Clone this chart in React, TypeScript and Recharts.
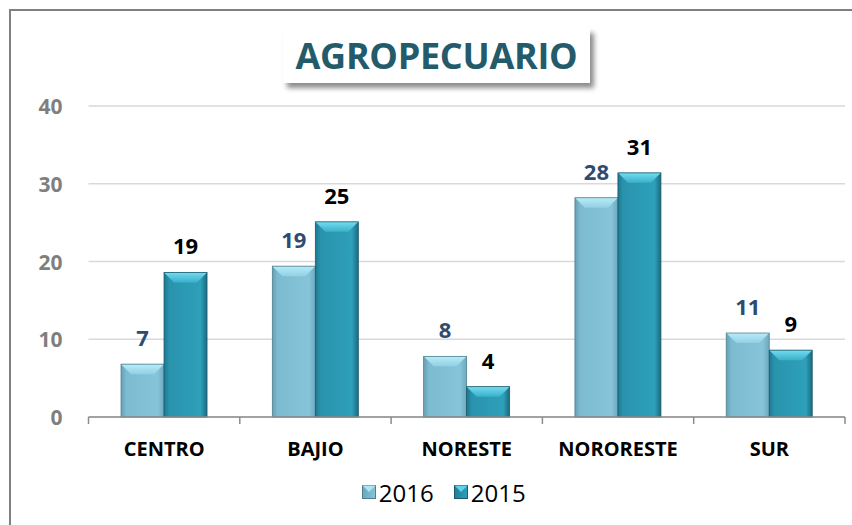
import React from 'react';
import { BarChart, Bar, XAxis, YAxis, CartesianGrid, LabelList, Legend } from 'recharts';

const categories = ['CENTRO', 'BAJIO', 'NORESTE', 'NORORESTE', 'SUR'];
const values2016 = [6.8, 19.4, 7.8, 28.2, 10.8];
const values2015 = [18.6, 25.1, 3.9, 31.4, 8.6];
const labels2016 = [7, 19, 8, 28, 11];
const labels2015 = [19, 25, 4, 31, 9];
const yTicks = [0, 10, 20, 30, 40];

const data = categories.map((name, i) => ({
  name,
  v2016: values2016[i],
  v2015: values2015[i],
  l2016: labels2016[i],
  l2015: labels2015[i],
}));

const FONT = '"Open Sans", "DejaVu Sans", sans-serif';

const palette = {
  light: { body: 'url(#g2016)', bevel: 'url(#b2016)', edge: '#4f7f90' },
  dark: { body: 'url(#g2015)', bevel: 'url(#b2015)', edge: '#1b5a6a' },
};

const makeShape = (p: { body: string; bevel: string; edge: string }) => (props: any) => {
  const { x, y, width, height } = props;
  if (!height || height <= 0) return <g />;
  const b = Math.min(10, height / 2, width / 3);
  return (
    <g>
      <rect x={x} y={y} width={width} height={height} fill={p.body} />
      <polygon
        points={`${x},${y} ${x + width},${y} ${x + width - b},${y + b} ${x + b},${y + b}`}
        fill={p.bevel}
      />
      <rect x={x} y={y} width={width} height={height} fill="none" stroke={p.edge} strokeWidth={0.8} />
    </g>
  );
};

const XTick = (props: any) => {
  const { x, y, payload, index } = props;
  const half = payload && payload.offset ? payload.offset : 75.6;
  const top = y - 8;
  return (
    <g>
      <line x1={x - half} y1={top} x2={x - half} y2={top + 7} stroke="#8c8c8c" strokeWidth={1.5} />
      {index === categories.length - 1 && (
        <line x1={x + half} y1={top} x2={x + half} y2={top + 7} stroke="#8c8c8c" strokeWidth={1.5} />
      )}
      <text x={x} y={top + 31} textAnchor="middle" dominantBaseline="central" fontFamily={FONT} fontWeight={700} fontSize={20} fill="#000">
        {payload.value}
      </text>
    </g>
  );
};

const YTick = (props: any) => {
  const { x, y, payload } = props;
  return (
    <text x={x - 18} y={y} textAnchor="end" dominantBaseline="central" fontFamily={FONT} fontWeight={700} fontSize={21} fill="#7f7f7f">
      {payload.value}
    </text>
  );
};

const LegendIcon = ({ light }: { light: boolean }) => (
  <svg width={14} height={14} style={{ marginRight: 3 }}>
    <defs>
      <linearGradient id={light ? 'lg2016' : 'lg2015'} x1="0" y1="0" x2="1" y2="0">
        <stop offset="0" stopColor={light ? '#6aa8be' : '#1f7f98'} />
        <stop offset="1" stopColor={light ? '#86c4d9' : '#2ea0b9'} />
      </linearGradient>
    </defs>
    <rect x={0.5} y={0.5} width={13} height={13} fill={light ? 'url(#lg2016)' : 'url(#lg2015)'} stroke={light ? '#4f7f90' : '#1b5a6a'} />
    <polygon points="0.5,0.5 13.5,0.5 7,7" fill={light ? '#aee4f4' : '#62d2ea'} />
  </svg>
);

const LegendContent = () => (
  <div style={{ height: 30, display: 'flex', justifyContent: 'center', alignItems: 'center', fontFamily: FONT, fontSize: 24, color: '#000', paddingLeft: 14 }}>
    <span style={{ display: 'flex', alignItems: 'center', marginRight: 20 }}>
      <LegendIcon light />2016
    </span>
    <span style={{ display: 'flex', alignItems: 'center' }}>
      <LegendIcon light={false} />2015
    </span>
  </div>
);

export default function App() {
  return (
    <div style={{ position: 'absolute', left: 0, top: 0, width: 852, height: 525, background: '#fff', overflow: 'hidden' }}>
      <div style={{ position: 'absolute', left: 9, top: 9, width: 900, height: 600, borderLeft: '2px solid #808080', borderTop: '2px solid #808080' }} />
      <div style={{ position: 'absolute', left: 0, top: 0 }}>
        <BarChart
          width={852}
          height={525}
          data={data}
          margin={{ top: 106, right: 7, bottom: 18, left: 28.5 }}
          barCategoryGap="21.5%"
          barGap={0}
        >
          <defs>
            <linearGradient id="g2016" x1="0" y1="0" x2="1" y2="0">
              <stop offset="0" stopColor="#689fb4" />
              <stop offset="0.12" stopColor="#7cbbd0" />
              <stop offset="0.85" stopColor="#86c4d9" />
              <stop offset="1" stopColor="#6fa9be" />
            </linearGradient>
            <linearGradient id="g2015" x1="0" y1="0" x2="1" y2="0">
              <stop offset="0" stopColor="#1d7890" />
              <stop offset="0.12" stopColor="#2993ad" />
              <stop offset="0.85" stopColor="#2ea0b9" />
              <stop offset="1" stopColor="#1b6a80" />
            </linearGradient>
            <linearGradient id="b2016" x1="0" y1="0" x2="0" y2="1">
              <stop offset="0" stopColor="#b8ecf8" />
              <stop offset="1" stopColor="#92d0e4" />
            </linearGradient>
            <linearGradient id="b2015" x1="0" y1="0" x2="0" y2="1">
              <stop offset="0" stopColor="#74dcf0" />
              <stop offset="1" stopColor="#3ab0ca" />
            </linearGradient>
          </defs>
          <CartesianGrid vertical={false} stroke="#d9d9d9" strokeWidth={1.5} />
          <XAxis dataKey="name" height={60} stroke="#8c8c8c" strokeWidth={1.5} tickLine={false} tick={<XTick />} interval={0} />
          <YAxis width={60} domain={[0, 40]} ticks={yTicks} axisLine={false} tickLine={false} tick={<YTick />} />
          <Legend verticalAlign="bottom" content={<LegendContent />} />
          <Bar dataKey="v2016" name="2016" shape={makeShape(palette.light)} isAnimationActive={false}>
            <LabelList dataKey="l2016" position="top" offset={18} fill="#2f4b6f" fontFamily={FONT} fontWeight={700} fontSize={22} />
          </Bar>
          <Bar dataKey="v2015" name="2015" shape={makeShape(palette.dark)} isAnimationActive={false}>
            <LabelList dataKey="l2015" position="top" offset={18} fill="#000" fontFamily={FONT} fontWeight={700} fontSize={22} />
          </Bar>
        </BarChart>
      </div>
      <div
        style={{
          position: 'absolute',
          left: 283,
          top: 28,
          width: 307,
          height: 55,
          background: '#fff',
          boxShadow: '4px 5px 5px rgba(0,0,0,0.45)',
          display: 'flex',
          alignItems: 'center',
          justifyContent: 'center',
          fontFamily: FONT,
          fontWeight: 700,
          fontSize: 36,
          color: '#235b6a',
          letterSpacing: -0.3,
        }}
      >
        AGROPECUARIO
      </div>
    </div>
  );
}
